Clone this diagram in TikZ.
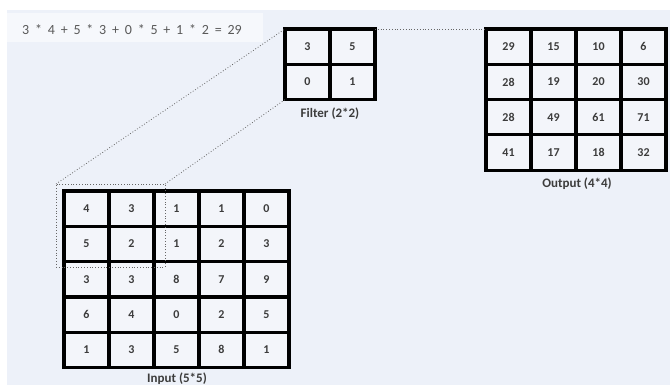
\documentclass[tikz,border=0pt]{standalone}
\usepackage{fontspec}
\setmainfont{Carlito}
\definecolor{paper}{HTML}{EDF1F9}
\definecolor{band}{HTML}{F6F8FC}
\definecolor{cellfill}{HTML}{F3F5FA}
\definecolor{ink}{HTML}{3C3C3C}
\begin{document}
\begin{tikzpicture}[x=1pt,y=-1pt,
    cell/.style={draw=black,line width=3.2pt,outer sep=0pt,inner sep=0pt,
      minimum width=45pt,minimum height=35.3pt,text=ink,
      font=\fontsize{12}{13}\selectfont\bfseries},
    lbl/.style={text=ink,font=\fontsize{13}{15}\selectfont\bfseries},
    guide/.style={draw=black!60,dotted,line width=0.8pt}]
  \useasboundingbox (0,0) rectangle (670,385);
  \fill[paper] (7,10) rectangle (670,385);
  \fill[band] (7,13) rectangle (263,42);
  \node[anchor=west,inner sep=0pt,text=ink!85,font=\fontsize{14}{16}\selectfont]
    (eq) at (22,30) {\spaceskip=5.8pt 3 * 4 + 5 * 3 + 0 * 5 + 1 * 2 = 29};

  % grid backgrounds
  \fill[cellfill] (64,191) rectangle +(225,176.5);
  \fill[cellfill] (285,29) rectangle +(90,70.6);
  \fill[cellfill] (486,29) rectangle +(180,141.2);

  % input (5*5)
  \foreach \row [count=\i] in {{4,3,1,1,0},{5,2,1,2,3},{3,3,8,7,9},{6,4,0,2,5},{1,3,5,8,1}}
    \foreach \v [count=\j] in \row
      \node[cell] (in-\i-\j) at ({64+45*(\j-0.5)},{191+35.3*(\i-0.5)}) {\v};

  % filter (2*2)
  \foreach \row [count=\i] in {{3,5},{0,1}}
    \foreach \v [count=\j] in \row
      \node[cell] (flt-\i-\j) at ({285+45*(\j-0.5)},{29+35.3*(\i-0.5)}) {\v};

  % output (4*4)
  \foreach \row [count=\i] in {{29,15,10,6},{28,19,20,30},{28,49,61,71},{41,17,18,32}}
    \foreach \v [count=\j] in \row
      \node[cell] (out-\i-\j) at ({486+45*(\j-0.5)},{29+35.3*(\i-0.5)}) {\v};

  \node[lbl] (in-lbl) at (177,379) {Input (5*5)};
  \node[lbl] (flt-lbl) at (330,114) {Filter (2*2)};
  \node[lbl] (out-lbl) at (577,184) {Output (4*4)};

  % receptive window and projection lines
  \node[guide,anchor=north west,minimum width=109pt,minimum height=83pt,
    inner sep=0pt,outer sep=0pt] (win) at (56,184) {};
  \draw[guide] (win.north west) -- (flt-1-1.north west);
  \draw[guide] (win.north east) -- (flt-2-1.south west);
  \draw[guide] (flt-1-2.north east) -- (out-1-1.north west);
\end{tikzpicture}
\end{document}
